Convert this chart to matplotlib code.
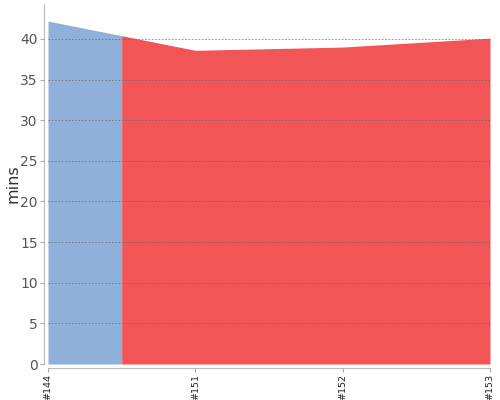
import numpy as np
import matplotlib.pyplot as plt

# --- データ ---
builds = ['#144', '#151', '#152', '#153']
durations = [42.2, 38.6, 39.0, 40.1]   # mins
status = ['success', 'failed', 'failed', 'failed']

COLORS = {'success': '#8fb1d9', 'failed': '#f25555'}

# --- グラフ ---
fig = plt.figure(figsize=(5, 4), dpi=100)
ax = fig.add_axes([0.096, 0.09, 0.884, 0.90])

# spine位置を先に決める (set_position は目盛りをリセットするため)
for s in ['top', 'right']:
    ax.spines[s].set_visible(False)
for s in ['left', 'bottom']:
    ax.spines[s].set_color('#bbbbbb')
    ax.spines[s].set_position(('outward', 3))

x = np.arange(len(builds))
y = np.array(durations)

# 同じ状態が続く区間ごとにまとめ、中点から中点まで塗る
n = len(builds)
i = 0
while i < n:
    j = i
    while j + 1 < n and status[j + 1] == status[i]:
        j += 1
    lo = max(i - 0.5, 0)
    hi = min(j + 0.5, n - 1)
    xs = [lo] + [v for v in x if lo < v < hi] + [hi]
    ys = np.interp(xs, x, y)
    ax.fill_between(xs, 0, ys, color=COLORS[status[i]], linewidth=0, zorder=1)
    i = j + 1

ax.set_xlim(0, n - 1)
ax.set_ylim(0, 44.3)
ax.set_yticks(range(0, 45, 5))
ax.set_xticks(x)
ax.set_xticklabels(builds, rotation=90, fontsize=6.8, color='#222222')
ax.tick_params(axis='y', labelsize=10, labelcolor='#555555', length=3, width=0.8,
               color='#aaaaaa', pad=1.5)
ax.tick_params(axis='x', length=3, width=0.8, color='#aaaaaa', pad=1)
ax.set_ylabel('mins', fontsize=11.5, color='#333333')
ax.yaxis.set_label_coords(-0.063, 0.5)

ax.grid(axis='y', color='#666666', linestyle=(0, (2, 2)), linewidth=0.6, alpha=0.8, zorder=2)
ax.set_axisbelow(False)

fig.savefig('out.png', dpi=100)
